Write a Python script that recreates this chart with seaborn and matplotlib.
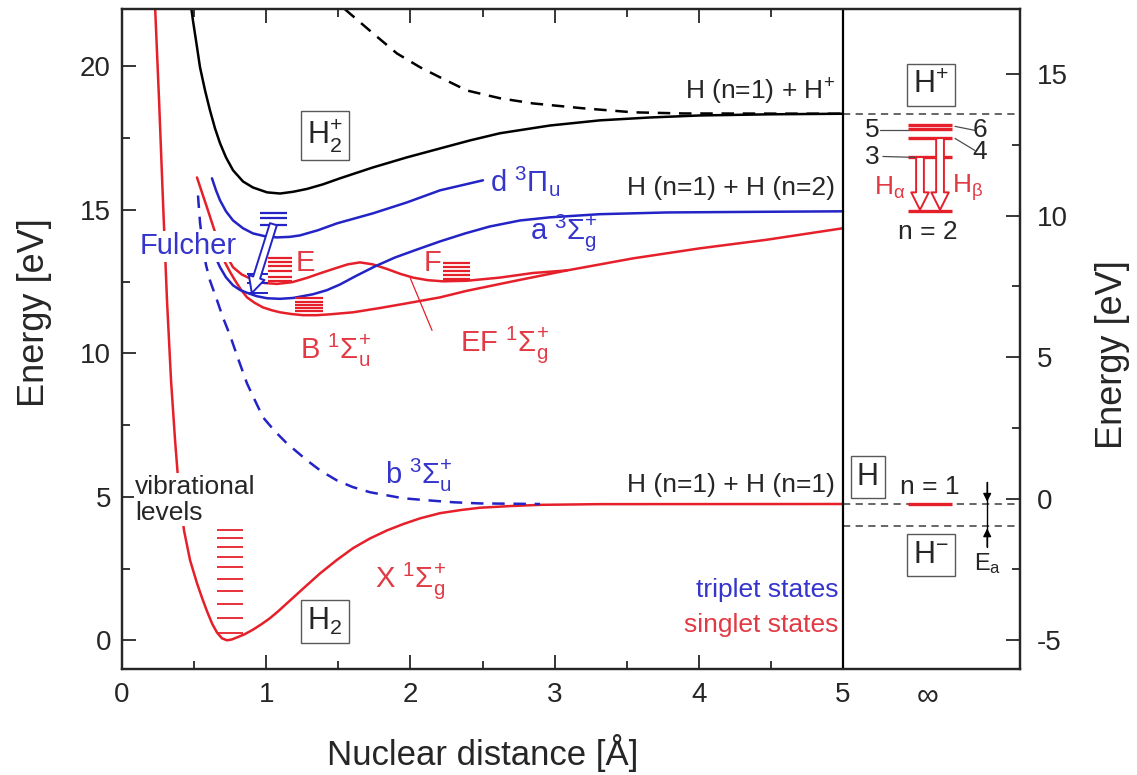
import numpy as np
import pandas as pd
import matplotlib
matplotlib.use("Agg")
import matplotlib.pyplot as plt
from matplotlib.ticker import MultipleLocator
import seaborn as sns

sns.set_theme(style="ticks")
plt.rcParams["font.family"] = ["Liberation Sans", "DejaVu Sans"]
plt.rcParams["mathtext.fontset"] = "custom"
plt.rcParams["mathtext.rm"] = "Liberation Sans"
plt.rcParams["mathtext.it"] = "Liberation Sans:italic"
plt.rcParams["mathtext.bf"] = "Liberation Sans:bold"
plt.rcParams["mathtext.default"] = "regular"
plt.rcParams["axes.unicode_minus"] = False

RED = "#e6202a"
BLUE = "#2323c6"
RED_TXT = "#e23a44"
BLUE_TXT = "#3535cc"

# ---- potential energy curves: nuclear distance R [Å], energy E [eV] ----
X_R = [0.229, 0.257, 0.284, 0.312, 0.340, 0.368, 0.395, 0.430, 0.472, 0.520, 0.555,
       0.589, 0.625, 0.659, 0.693, 0.728, 0.762, 0.797, 0.850, 0.908, 0.967, 1.026,
       1.085, 1.144, 1.260, 1.373, 1.490, 1.602, 1.720, 1.838, 1.950, 2.067, 2.205,
       2.350, 2.483, 2.700, 2.899, 3.315, 5.0]
X_E = [22.13, 18.82, 15.33, 11.85, 9.06, 6.97, 5.23, 3.83, 2.79, 1.99, 1.48,
       1.02, 0.58, 0.27, 0.07, 0.0, 0.03, 0.10, 0.21, 0.37, 0.56, 0.77,
       1.02, 1.29, 1.82, 2.33, 2.80, 3.21, 3.55, 3.83, 4.05, 4.25, 4.43,
       4.54, 4.62, 4.68, 4.72, 4.745, 4.75]

b_R = [0.527, 0.541, 0.562, 0.583, 0.610, 0.659, 0.700, 0.749, 0.804, 0.867, 0.922,
       0.978, 1.061, 1.144, 1.283, 1.380, 1.491, 1.600, 1.720, 1.949, 2.115, 2.300,
       2.483, 2.899]
b_E = [15.50, 14.56, 13.69, 13.07, 12.54, 11.85, 11.25, 10.63, 9.83, 8.95, 8.36,
       7.77, 7.28, 6.86, 6.27, 5.90, 5.57, 5.34, 5.16, 4.95, 4.88, 4.81,
       4.77, 4.75]

B_R = [0.520, 0.555, 0.589, 0.624, 0.659, 0.687, 0.714, 0.750, 0.784, 0.825, 0.867,
       0.920, 0.978, 1.040, 1.096, 1.175, 1.255, 1.350, 1.442, 1.602, 1.789, 1.949,
       2.205, 2.392, 2.739, 3.086, 3.544, 4.008, 4.473, 5.0]
B_E = [16.13, 15.60, 15.09, 14.55, 14.01, 13.58, 13.17, 12.83, 12.54, 12.22, 11.95,
       11.76, 11.60, 11.50, 11.43, 11.37, 11.33, 11.33, 11.36, 11.43, 11.58, 11.72,
       11.95, 12.18, 12.54, 12.89, 13.31, 13.66, 13.96, 14.36]

EF_R = [0.735, 0.770, 0.830, 0.908, 0.990, 1.075, 1.180, 1.283, 1.380, 1.477, 1.565,
        1.650, 1.740, 1.838, 1.930, 2.018, 2.120, 2.226, 2.392, 2.621, 2.850, 3.086]
EF_E = [13.31, 13.00, 12.75, 12.56, 12.45, 12.42, 12.48, 12.63, 12.80, 12.96, 13.10,
        13.17, 13.10, 12.94, 12.77, 12.64, 12.55, 12.51, 12.53, 12.64, 12.80, 12.89]

a_R = [0.652, 0.680, 0.721, 0.770, 0.818, 0.867, 0.936, 1.006, 1.096, 1.186, 1.325,
       1.420, 1.512, 1.616, 1.754, 1.893, 2.030, 2.205, 2.380, 2.550, 2.760, 2.968,
       3.315, 3.780, 4.355, 5.0]
a_E = [13.31, 13.00, 12.65, 12.37, 12.21, 12.11, 11.99, 11.92, 11.90, 11.93, 12.06,
       12.20, 12.40, 12.68, 13.03, 13.34, 13.59, 13.90, 14.18, 14.42, 14.63, 14.74,
       14.85, 14.91, 14.93, 14.95]

d_R = [0.624, 0.652, 0.680, 0.721, 0.770, 0.839, 0.908, 0.992, 1.075, 1.165, 1.234,
       1.359, 1.491, 1.741, 1.976, 2.205, 2.503]
d_E = [16.10, 15.68, 15.33, 14.95, 14.63, 14.36, 14.18, 14.08, 14.04, 14.06, 14.11,
       14.29, 14.53, 14.88, 15.26, 15.68, 16.03]

ion_R = [0.478, 0.492, 0.513, 0.541, 0.576, 0.610, 0.645, 0.680, 0.721, 0.770, 0.839,
         0.908, 1.006, 1.096, 1.186, 1.283, 1.394, 1.512, 1.741, 1.976, 2.205, 2.413,
         2.621, 2.968, 3.315, 3.662, 4.008, 4.494, 5.0]
ion_E = [22.13, 21.60, 20.91, 19.97, 19.16, 18.47, 17.84, 17.32, 16.83, 16.38, 15.99,
         15.78, 15.61, 15.57, 15.63, 15.73, 15.89, 16.10, 16.48, 16.83, 17.14, 17.42,
         17.67, 17.94, 18.12, 18.22, 18.29, 18.33, 18.35]

ion_rep_R = [1.546, 1.741, 1.907, 2.067, 2.205, 2.392, 2.621, 2.850, 3.197, 3.544,
             3.890, 5.0]
ion_rep_E = [21.99, 21.15, 20.45, 19.97, 19.62, 19.16, 18.89, 18.71, 18.54, 18.40,
             18.36, 18.35]

# ---- vibrational levels [eV] ----
X_vib = [0.27, 0.78, 1.27, 1.72, 2.15, 2.55, 2.92, 3.26, 3.57, 3.84, 4.08, 4.29,
         4.46, 4.58, 4.67]
B_vib = [11.47, 11.57, 11.67, 11.78, 11.92]
E_vib = [12.51, 12.65, 12.86, 13.03, 13.17, 13.34]
F_vib = [12.58, 12.72, 12.86, 13.00, 13.14]
d_vib = [14.49, 14.70, 14.88]
a_vib = [12.10, 12.45, 12.75]

# ---- atomic hydrogen (right panel), energies relative to H(n=1) [eV] ----
H_n = [1, 2, 3, 4, 5, 6]
H_level = [0.0, 10.20, 12.09, 12.75, 13.06, 13.22]
H_ion = 13.60
H_minus = -0.75
H_pair_limit = 4.75   # H(n=1)+H(n=1) on the molecular energy scale

fig = plt.figure(figsize=(11.37, 7.75), dpi=100)
ax = fig.add_axes([122 / 1137, 1 - 669 / 775, 898 / 1137, 660 / 775])
XMAX = 898 / 144.2
ax.set_xlim(0, XMAX)
ax.set_ylim(-1.0, 22.0)

curves = [
    ("X", X_R, X_E, RED, "solid"),
    ("b", b_R, b_E, BLUE, "dashed"),
    ("B", B_R, B_E, RED, "solid"),
    ("EF", EF_R, EF_E, RED, "solid"),
    ("a", a_R, a_E, BLUE, "solid"),
    ("d", d_R, d_E, BLUE, "solid"),
    ("ion", ion_R, ion_E, "black", "solid"),
    ("ion_rep", ion_rep_R, ion_rep_E, "black", "dashed"),
]
pec = pd.concat(
    [pd.DataFrame({"state": n, "R": r, "E": e}) for n, r, e, _, _ in curves],
    ignore_index=True,
)
for name, _, _, color, ls in curves:
    sns.lineplot(data=pec[pec.state == name], x="R", y="E", ax=ax, sort=False,
                 estimator=None, legend=False, color=color, lw=1.8, zorder=2)
    line = ax.lines[-1]
    line.set_solid_joinstyle("round")
    if ls == "dashed":
        line.set_linestyle((0, (5, 3.5)))

# vibrational ladders
ax.hlines(X_vib, 0.659, 0.839, color=RED, lw=1.3, zorder=2)
ax.hlines(B_vib, 1.20, 1.394, color=RED, lw=1.6, zorder=2)
ax.hlines(E_vib, 1.012, 1.179, color=RED, lw=1.6, zorder=2)
ax.hlines(F_vib, 2.226, 2.413, color=RED, lw=1.6, zorder=2)
ax.hlines(d_vib, 0.957, 1.144, color=BLUE, lw=1.6, zorder=2)
ax.hlines(a_vib, 0.87, 1.01, color=BLUE, lw=1.4, zorder=2)

# separator between molecule and atoms
ax.axvline(5.0, color="black", lw=1.6, zorder=3)

# atomic limits on the right
lim_kw = dict(color="0.35", lw=1.3, linestyle=(0, (4, 3)), zorder=2)
ax.hlines([H_pair_limit + H_ion], 5.0, XMAX, **lim_kw)
ax.hlines([H_pair_limit + H_level[0]], 5.0, XMAX, **lim_kw)
ax.hlines([H_pair_limit + H_minus], 5.0, XMAX, **lim_kw)
lev = [H_pair_limit + v for v in H_level]
ax.hlines(lev, 5.451, 5.756, color=RED, lw=2.4, zorder=3)

# Balmer arrows
hollow = dict(arrowstyle="simple,head_length=0.9,head_width=0.9,tail_width=0.4",
              fc="white", ec=RED, lw=1.4, shrinkA=0, shrinkB=0, mutation_scale=14)
ax.annotate("", xy=(5.534, lev[1] + 0.05), xytext=(5.534, lev[2]), arrowprops=hollow)
ax.annotate("", xy=(5.673, lev[1] + 0.05), xytext=(5.673, lev[3]), arrowprops=hollow)

# Fulcher transition arrow
ful = dict(hollow, ec=BLUE, mutation_scale=13)
ax.annotate("", xy=(0.90, 12.1), xytext=(1.05, 14.5), arrowprops=ful)

# electron affinity marker
ax.plot([6.0, 6.0], [5.5, 3.25], color="black", lw=1.0, zorder=3)
ea = dict(arrowstyle="-|>", color="black", lw=1.0, mutation_scale=12,
          shrinkA=0, shrinkB=0)
ax.annotate("", xy=(6.0, lev[0] + 0.08), xytext=(6.0, 5.5), arrowprops=ea)
ax.annotate("", xy=(6.0, H_pair_limit + H_minus - 0.1), xytext=(6.0, 3.25),
            arrowprops=ea)

# leader lines for the Balmer level numbers and the EF label
lead = dict(color="0.3", lw=0.9, zorder=3)
ax.plot([5.257, 5.451], [17.80, 17.80], **lead)
ax.plot([5.277, 5.499], [16.86, 16.83], **lead)
ax.plot([5.777, 5.915], [17.91, 17.77], **lead)
ax.plot([5.777, 5.915], [17.49, 17.07], **lead)
ax.plot([2.0, 2.15], [12.61, 10.8], color=RED, lw=0.9, zorder=3)

FS = 19
SFS = 21
box = dict(boxstyle="square,pad=0.2", fc="white", ec="0.35", lw=1.0)
ax.text(1.408, 17.6, "H$_{2}^{+}$", fontsize=22, ha="center", va="center", bbox=box)
ax.text(1.408, 0.66, "H$_{2}$", fontsize=22, ha="center", va="center", bbox=box)
ax.text(5.61, 19.34, "H$^{+}$", fontsize=22, ha="center", va="center", bbox=box)
ax.text(5.173, 5.68, "H", fontsize=22, ha="center", va="center", bbox=box)
ax.text(5.61, 2.96, "H$^{-}$", fontsize=22, ha="center", va="center", bbox=box)

ax.text(4.945, 19.1, "H (n=1) + H$^{+}$", fontsize=FS, ha="right", va="center")
ax.text(4.945, 15.75, "H (n=1) + H (n=2)", fontsize=FS, ha="right", va="center")
ax.text(4.945, 5.4, "H (n=1) + H (n=1)", fontsize=FS, ha="right", va="center")

ax.text(2.552, 16.0, "d ${}^{3}\\Pi_{u}$", fontsize=SFS, color=BLUE_TXT, va="center")
ax.text(2.829, 14.2, "a ${}^{3}\\Sigma_{g}^{+}$", fontsize=SFS, color=BLUE_TXT, va="center")
ax.text(1.824, 5.75, "b ${}^{3}\\Sigma_{u}^{+}$", fontsize=SFS, color=BLUE_TXT, va="center")
ax.text(1.27, 13.14, "E", fontsize=SFS, color=RED_TXT, ha="center", va="center")
ax.text(2.15, 13.14, "F", fontsize=SFS, color=RED_TXT, ha="center", va="center")
ax.text(2.344, 10.3, "EF ${}^{1}\\Sigma_{g}^{+}$", fontsize=SFS, color=RED_TXT, va="center")
ax.text(1.234, 10.1, "B ${}^{1}\\Sigma_{u}^{+}$", fontsize=SFS, color=RED_TXT, va="center")
ax.text(1.755, 2.1, "X ${}^{1}\\Sigma_{g}^{+}$", fontsize=SFS, color=RED_TXT, va="center")

ax.text(0.458, 13.73, "Fulcher", fontsize=21, color=BLUE_TXT, ha="center", va="center",
        bbox=dict(boxstyle="square,pad=0.05", fc="white", ec="none"), zorder=4)
ax.text(0.09, 4.9, "vibrational\nlevels", fontsize=FS, color="0.15", ha="left",
        va="center", linespacing=1.1,
        bbox=dict(boxstyle="square,pad=0.05", fc="white", ec="none"), zorder=4)

ax.text(4.966, 1.74, "triplet states", fontsize=FS, color=BLUE_TXT, ha="right", va="center")
ax.text(4.966, 0.52, "singlet states", fontsize=FS, color=RED_TXT, ha="right", va="center")

ax.text(5.20, 17.77, "5", fontsize=FS, ha="center", va="center")
ax.text(5.20, 16.83, "3", fontsize=FS, ha="center", va="center")
ax.text(5.95, 17.80, "6", fontsize=FS, ha="center", va="center")
ax.text(5.95, 17.00, "4", fontsize=FS, ha="center", va="center")
ax.text(5.326, 15.78, "H$_{\\alpha}$", fontsize=FS, color=RED_TXT, ha="center", va="center")
ax.text(5.867, 15.78, "H$_{\\beta}$", fontsize=FS, color=RED_TXT, ha="center", va="center")
ax.text(5.59, 14.22, "n = 2", fontsize=FS, ha="center", va="center")
ax.text(5.603, 5.33, "n = 1", fontsize=FS, ha="center", va="center")
ax.text(6.0, 2.68, "E$_{a}$", fontsize=17, ha="center", va="center")

# axes, ticks and labels
for s in ax.spines.values():
    s.set_linewidth(1.6)
ax.set_xticks([0, 1, 2, 3, 4, 5])
ax.set_xticklabels(["0", "1", "2", "3", "4", "5"])
ax.set_xticks([0.5, 1.5, 2.5, 3.5, 4.5], minor=True)
ax.set_yticks([0, 5, 10, 15, 20])
ax.yaxis.set_minor_locator(MultipleLocator(2.5))
ax.tick_params(axis="both", which="both", direction="in", top=True, right=False,
               labelsize=20, width=1.3)
ax.tick_params(axis="both", which="major", length=10)
ax.tick_params(axis="both", which="minor", length=6)
ax.tick_params(axis="x", pad=9)
ax.tick_params(axis="y", pad=8)
ax.text(5.59, -0.018, "\u221e", transform=ax.get_xaxis_transform(), fontsize=22,
        ha="center", va="top")

ax2 = ax.twinx()
ax2.set_ylim(-6.02, 17.30)
ax2.set_yticks([-5, 0, 5, 10, 15])
ax2.yaxis.set_minor_locator(MultipleLocator(2.5))
ax2.tick_params(axis="y", which="both", direction="in", labelsize=20, width=1.3, pad=12)
ax2.tick_params(axis="y", which="major", length=10)
ax2.tick_params(axis="y", which="minor", length=6)
for s in ax2.spines.values():
    s.set_linewidth(1.6)

ax.set_xlabel("Nuclear distance [Å]", fontsize=25)
ax.xaxis.set_label_coords(2.5 / XMAX, -0.098)
ax.set_ylabel("Energy [eV]", fontsize=26)
ax.yaxis.set_label_coords(-0.078, 0.54)
ax2.set_ylabel("Energy [eV]", fontsize=26)
ax2.yaxis.set_label_coords(1.083, 0.476)

fig.savefig("out.png", dpi=100)
